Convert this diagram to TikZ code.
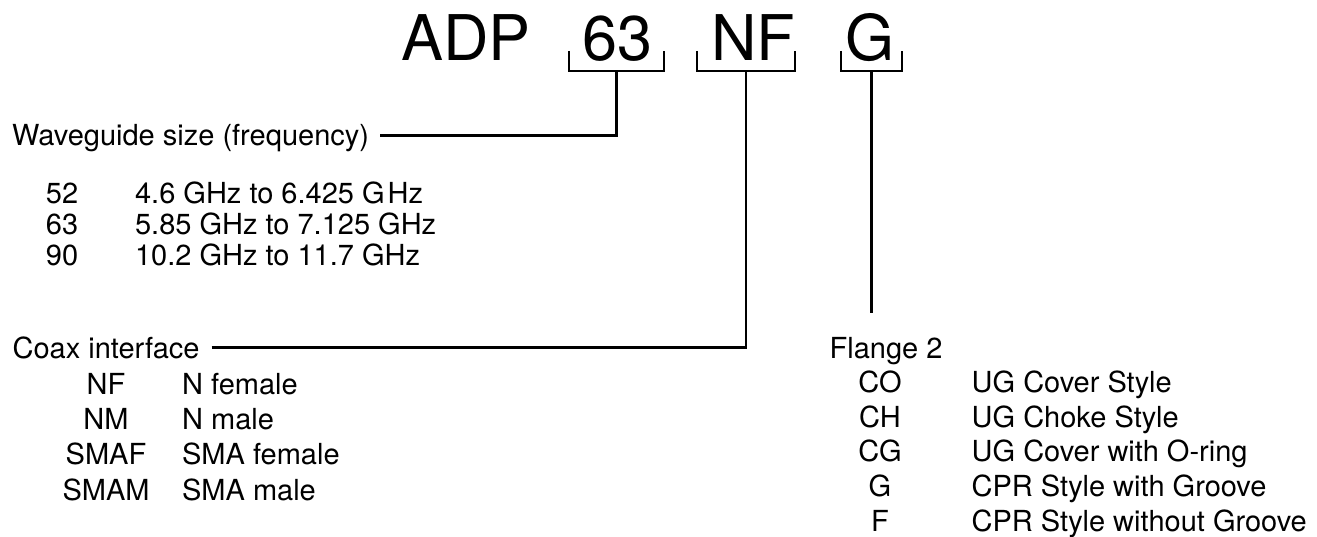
\documentclass[tikz,border=0pt]{standalone}
\usepackage{fontspec}
\setmainfont{TeX Gyre Heros}
\usetikzlibrary{positioning}

\begin{document}
\begin{tikzpicture}[x=1pt, y=-1pt, line width=2.2pt,
   part/.style={font=\fontsize{63}{63}\selectfont, inner sep=0pt, anchor=base west},
   lbl/.style={font=\fontsize{29}{29}\selectfont, inner sep=0pt, anchor=base west,
               text height=20.9pt, text depth=0pt},
   code/.style={lbl, anchor=base}]
  \useasboundingbox (0,0) rectangle (1317,537);
  % part number
  \node[part] (adp) at (400,61) {ADP};
  \node[part] (p63) at (581,61) {63};
  \node[part] (pNF) at (710,61) {NF};
  \node[part] (pG)  at (844,61) {G};
  % brackets under the parts
  \draw (569,51) -- (569,71) -- (664,71) -- (664,51);
  \draw (697,51) -- (697,71) -- (795,71) -- (795,51);
  \draw (841,51) -- (841,71) -- (902,71) -- (902,51);
  \coordinate (b63) at (616.5,71);
  \coordinate (bNF) at (746,71);
  \coordinate (bG)  at (871.5,71);
  \coordinate (gEnd) at (871.5,313);
  % waveguide size
  \node[lbl] (wg) at (11,146) {Waveguide size (frequency)};
  \node[code] (w52) at (62,204) {52};
  \node[lbl]  (f52) at (134,204) {4.6 GHz to 6.425 G\hspace{3pt}Hz};
  \node[code] (w63) at (62,235) {63};
  \node[lbl]  (f63) at (134,235) {5.85 GHz to 7.125 GHz};
  \node[code] (w90) at (62,266) {90};
  \node[lbl]  (f90) at (134,266) {10.2 GHz to 11.7 GHz};
  \draw ([xshift=10pt]wg.east) -| (b63);
  % coax interface
  \node[lbl] (cx) at (11.5,358) {Coax interface};
  \node[code] (cNF) at (106,394) {NF};
  \node[lbl]  (dNF) at (181,394) {N female};
  \node[code] (cNM) at (106,429) {NM};
  \node[lbl]  (dNM) at (181,429) {N male};
  \node[code] (cSF) at (106,464.5) {SMAF};
  \node[lbl]  (dSF) at (181,464.5) {SMA female};
  \node[code] (cSM) at (106,500) {SMAM};
  \node[lbl]  (dSM) at (181,500) {SMA male};
  \draw ([xshift=11pt]cx.east) -| (bNF);
  % flange
  \node[lbl] (fl) at (828.6,358) {Flange 2};
  \node[code] (fCO) at (880,392.6) {CO};
  \node[lbl]  (gCO) at (970.6,392.6) {UG Cover Style};
  \node[code] (fCH) at (880,427.2) {CH};
  \node[lbl]  (gCH) at (970.6,427.2) {UG Choke Style};
  \node[code] (fCG) at (880,461.8) {CG};
  \node[lbl]  (gCG) at (970.6,461.8) {UG Cover with O-ring};
  \node[code] (fG)  at (880,496.4) {G};
  \node[lbl]  (gG)  at (970.6,496.4) {CPR Style with Groove};
  \node[code] (fF)  at (880,531) {F};
  \node[lbl]  (gF)  at (970.6,531) {CPR Style without Groove};
  \draw (bG) -- (gEnd);
\end{tikzpicture}
\end{document}
